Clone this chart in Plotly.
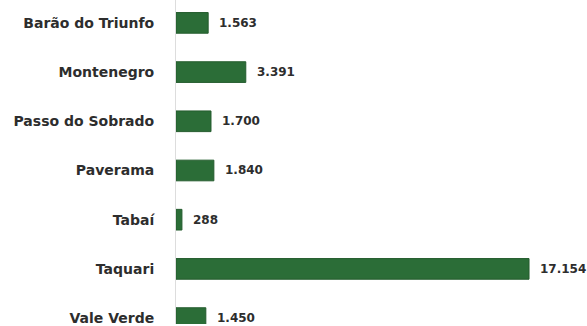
import plotly.graph_objects as go

cities = ["Barão do Triunfo", "Montenegro", "Passo do Sobrado", "Paverama",
          "Tabaí", "Taquari", "Vale Verde"]
values = [1563, 3391, 1700, 1840, 288, 17154, 1450]
labels = ["1.563", "3.391", "1.700", "1.840", "288", "17.154", "1.450"]

bar_color = "#2b6d37"
text_color = "#2d2d2d"
font_family = "DejaVu Sans, sans-serif"

fig = go.Figure()
fig.add_trace(go.Bar(
    x=values, y=cities, orientation="h",
    marker=dict(color=bar_color, line=dict(color="#245c2e", width=1)),
    width=0.42,
    hoverinfo="skip",
))

for c, v, t in zip(cities, values, labels):
    fig.add_annotation(x=v, y=c, text="<b>%s</b>" % t, showarrow=False,
                       xanchor="left", xshift=9,
                       font=dict(family=font_family, size=12, color=text_color))

fig.update_layout(
    width=587, height=326,
    margin=dict(l=176, r=0, t=0, b=0),
    paper_bgcolor="white", plot_bgcolor="white",
    showlegend=False,
    xaxis=dict(range=[0, 19971], visible=False, showgrid=False, zeroline=False),
    yaxis=dict(range=[6.12, -0.465], showgrid=False, zeroline=False,
               showline=True, linecolor="#dddddd", linewidth=1,
               ticks="", ticklabelstandoff=18,
               tickfont=dict(family=font_family, size=14, color=text_color)),
)
fig.update_yaxes(tickvals=cities, ticktext=["<b>%s</b>" % c for c in cities])

fig.write_html("out.html")
